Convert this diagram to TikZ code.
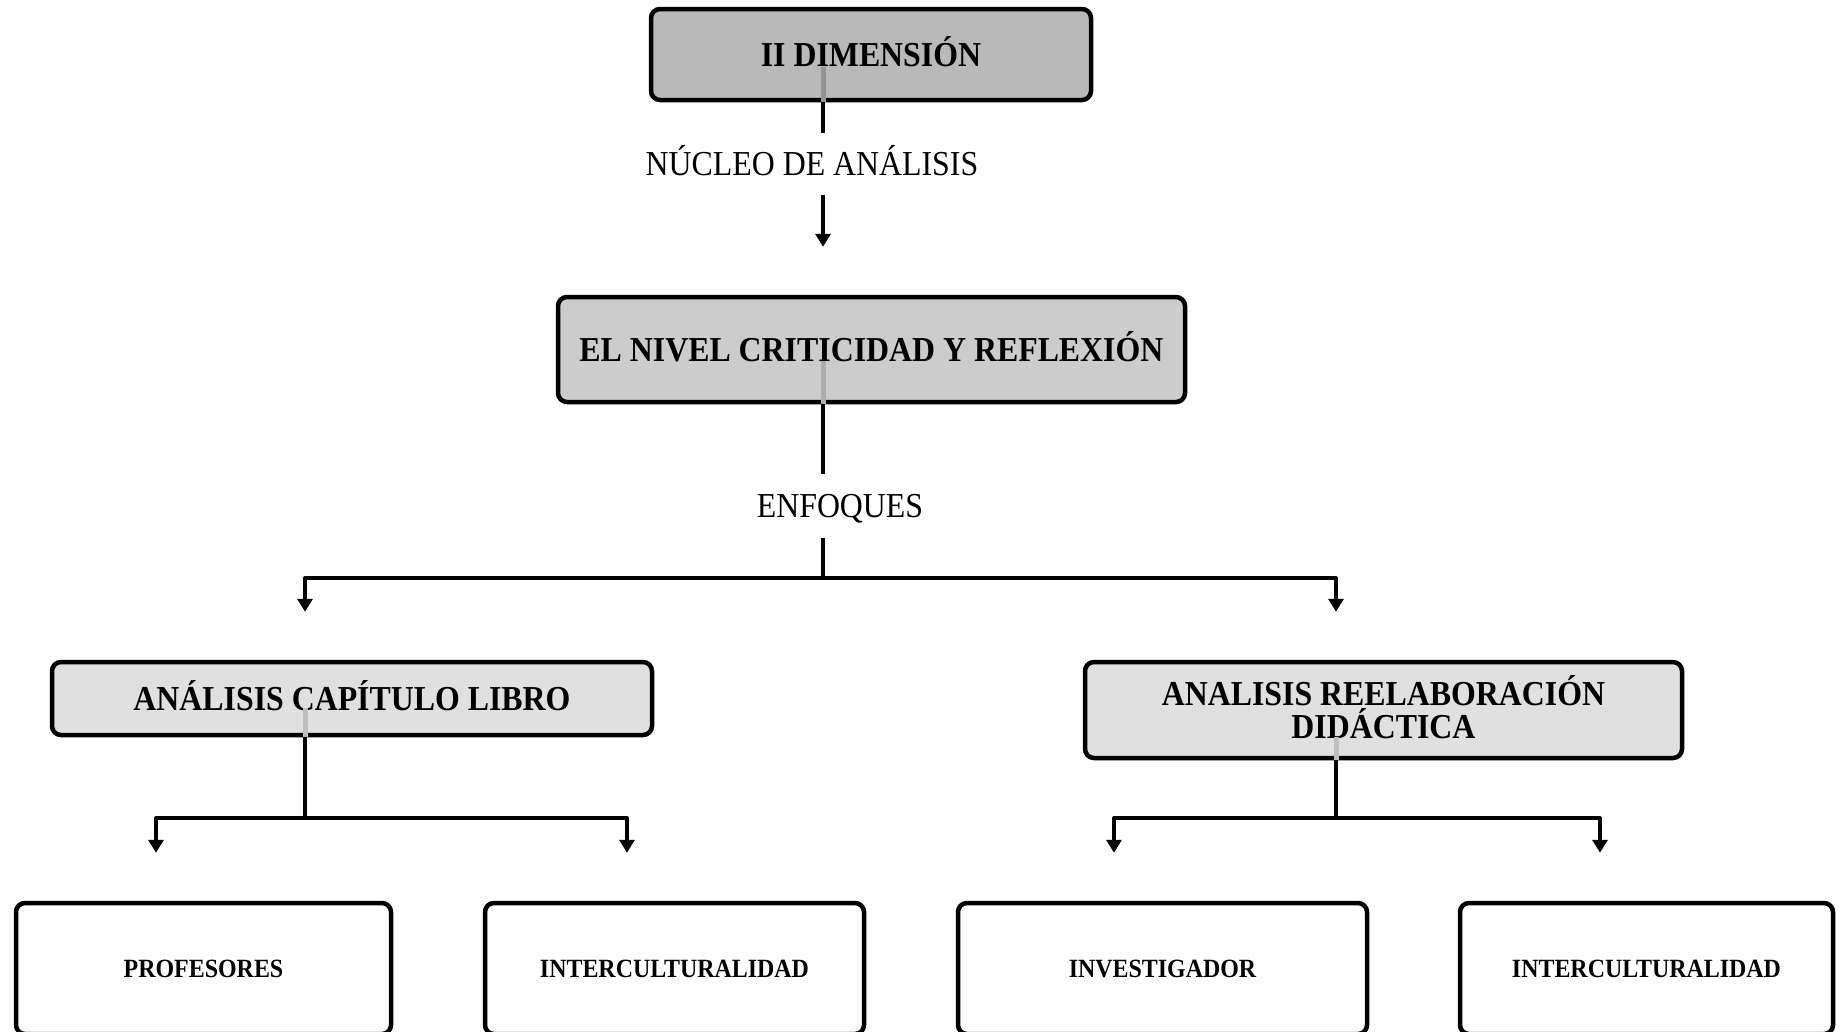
\documentclass[tikz,border=0pt]{standalone}
\usepackage{fontspec}
\setmainfont{Liberation Serif}[FakeStretch=0.91]
\usetikzlibrary{arrows.meta}
\definecolor{fillA}{HTML}{B9B9B9}
\definecolor{fillB}{HTML}{CCCCCC}
\definecolor{fillC}{HTML}{E0E0E0}
\begin{document}
\begin{tikzpicture}[x=1pt,y=-1pt,
  box/.style={draw=black, line width=4.5pt, rounded corners=9pt, inner sep=0pt,
    align=center, font=\bfseries\fontsize{35}{33}\selectfont,
    text height=23pt, text depth=0pt},
  leaf/.style={box, fill=white, minimum height=131pt,
    font=\bfseries\fontsize{26.3}{30}\selectfont, text height=17.5pt},
  lbl/.style={inner xsep=0pt, inner ysep=19pt, font=\fontsize{35}{40}\selectfont,
    text height=23pt, text depth=0pt},
  link/.style={draw=black, line width=4pt, line join=round},
  arr/.style={link, -{Triangle[width=15pt,length=13pt]}},
  stub/.style={line width=5pt},
]
\useasboundingbox (0,0) rectangle (1845,1031);

% x positions of the vertical connectors
\coordinate (xa) at (823,0);
\coordinate (xl) at (305,0);
\coordinate (xr) at (1336,0);
\coordinate (xll) at (156,0);
\coordinate (xlr) at (627,0);
\coordinate (xrl) at (1114,0);
\coordinate (xrr) at (1600,0);

% boxes
\node[box, fill=fillA, minimum width=440pt, minimum height=91pt] (dim) at (871,54.5) {II DIMENSIÓN};
\node[box, fill=fillB, minimum width=627pt, minimum height=105pt] (nivel) at (871.5,349.5) {EL NIVEL CRITICIDAD Y REFLEXIÓN};
\node[box, fill=fillC, minimum width=600pt, minimum height=73pt] (libro) at (352,698.5) {ANÁLISIS CAPÍTULO LIBRO};
\node[box, fill=fillC, minimum width=597pt, minimum height=96pt, text height=56pt] (reelab) at (1383.5,710) {ANALISIS REELABORACIÓN\\DIDÁCTICA};

% bottom row, running off the lower edge
\node[leaf, minimum width=375pt] (prof) at (203.5,968.5) {PROFESORES};
\node[leaf, minimum width=379pt] (inter1) at (674.5,968.5) {INTERCULTURALIDAD};
\node[leaf, minimum width=409pt] (invest) at (1162.5,968.5) {INVESTIGADOR};
\node[leaf, minimum width=373pt] (inter2) at (1646.5,968.5) {INTERCULTURALIDAD};

% connector labels
\node[lbl] (nucleo) at (812,164) {NÚCLEO DE ANÁLISIS};
\node[lbl] (enfoques) at (840,506) {ENFOQUES};

% connector ends showing through the box fills
\draw[stub, draw=fillA!80!black] ([yshift=35pt]dim.south -| xa) -- (dim.south -| xa);
\draw[stub, draw=fillB!85!black] ([yshift=43pt]nivel.south -| xa) -- (nivel.south -| xa);
\draw[stub, draw=fillC!85!black] ([yshift=29pt]libro.south -| xl) -- (libro.south -| xl);
\draw[stub, draw=fillC!85!black] ([yshift=23pt]reelab.south -| xr) -- (reelab.south -| xr);

% top chain
\draw[link] (dim.south -| xa) -- (nucleo.north -| xa);
\draw[arr, shorten >=48pt] (nucleo.south -| xa) -- (nivel.north -| xa);
\draw[link] (nivel.south -| xa) -- ([yshift=1pt]enfoques.north -| xa);

% first split
\coordinate (j1) at (823,578);
\coordinate (j2) at (305,818);
\coordinate (j3) at (1336,818);
\draw[link] ([yshift=-1pt]enfoques.south -| xa) -- (j1);
\draw[arr, shorten >=48pt] (j1) -- (j1 -| xl) -- (libro.north -| xl);
\draw[arr, shorten >=48pt] (j1) -- (j1 -| xr) -- (reelab.north -| xr);

% second level splits
\draw[link] (libro.south -| xl) -- (j2);
\draw[arr, shorten >=48pt] (j2) -- (j2 -| xll) -- (prof.north -| xll);
\draw[arr, shorten >=48pt] (j2) -- (j2 -| xlr) -- (inter1.north -| xlr);
\draw[link] (reelab.south -| xr) -- (j3);
\draw[arr, shorten >=48pt] (j3) -- (j3 -| xrl) -- (invest.north -| xrl);
\draw[arr, shorten >=48pt] (j3) -- (j3 -| xrr) -- (inter2.north -| xrr);
\end{tikzpicture}
\end{document}
